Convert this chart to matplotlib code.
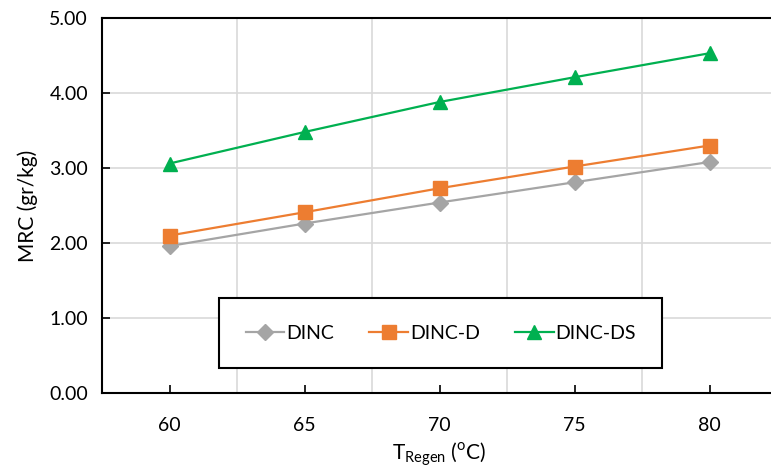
import matplotlib.pyplot as plt

plt.rcParams['font.family'] = ['Lato', 'DejaVu Sans']
plt.rcParams['mathtext.fontset'] = 'custom'
plt.rcParams['mathtext.rm'] = 'Lato'

# data
temps = ["60", "65", "70", "75", "80"]
dinc = [1.96, 2.26, 2.54, 2.81, 3.08]
dinc_d = [2.10, 2.41, 2.73, 3.02, 3.30]
dinc_ds = [3.06, 3.48, 3.88, 4.21, 4.53]

series = [
    ("DINC", dinc, "#A5A5A5", "D", 8),
    ("DINC-D", dinc_d, "#ED7D31", "s", 10.5),
    ("DINC-DS", dinc_ds, "#00B050", "^", 10.5),
]

fig = plt.figure(figsize=(7.71, 4.73), dpi=100)
ax = fig.add_axes([0.1323, 0.169, 0.8755, 0.793])

x = range(len(temps))
for name, vals, color, marker, ms in series:
    ax.plot(x, vals, color=color, marker=marker, markersize=ms, linewidth=1.6,
            label=name, zorder=3)

ax.set_xlim(-0.5, 4.5)
ax.set_ylim(0, 5)
ax.set_xticks(list(x))
ax.set_xticklabels(temps)
ax.set_xticks([0.5, 1.5, 2.5, 3.5], minor=True)
ax.set_yticks([0, 1, 2, 3, 4, 5])
ax.set_yticklabels(["%.2f" % v for v in [0, 1, 2, 3, 4, 5]])

ax.grid(True, axis="y", color="#D9D9D9", linewidth=1.2)
ax.grid(True, axis="x", which="minor", color="#D9D9D9", linewidth=1.2)
ax.set_axisbelow(True)

ax.tick_params(axis="both", which="major", direction="in", length=6, width=1.2,
               labelsize=14, colors="black")
ax.tick_params(axis="x", which="minor", length=0)
ax.tick_params(axis="x", pad=17)
ax.tick_params(axis="y", pad=10)

for side in ["left", "bottom", "top"]:
    ax.spines[side].set_linewidth(1.5)
    ax.spines[side].set_color("black")
ax.spines["right"].set_visible(False)

ax.set_ylabel("MRC (gr/kg)", fontsize=15, labelpad=8)
ax.set_xlabel(r"T$_{\mathrm{Regen}}$ ($^{\mathrm{o}}$C)", fontsize=15, labelpad=5)

leg = ax.legend(loc="center", bbox_to_anchor=(0.502, 0.16), ncol=3, fontsize=14,
                frameon=True, fancybox=False, edgecolor="black", framealpha=1.0,
                handlelength=2.0, handletextpad=0.1, columnspacing=1.8,
                borderpad=1.35)
leg.get_frame().set_linewidth(1.5)
leg.set_zorder(5)

fig.savefig("out.png", dpi=100)
